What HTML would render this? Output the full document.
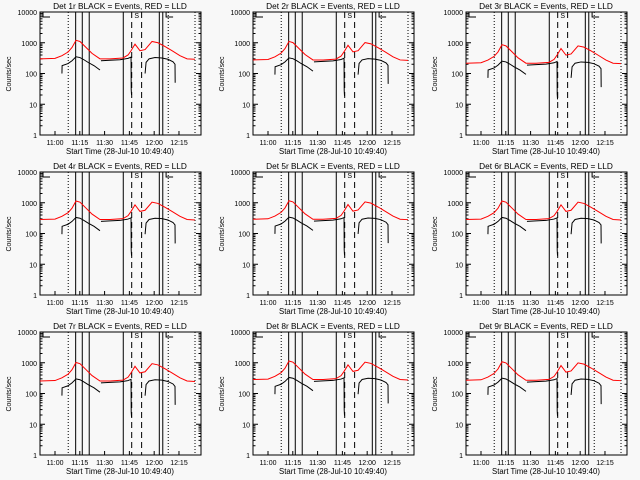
<!DOCTYPE html>
<html><head><meta charset="utf-8"><style>
html,body{margin:0;padding:0;background:#f8f8f8;}
svg{display:block;font-family:"Liberation Sans",sans-serif;}
</style></head><body>
<svg id="chart" width="640" height="480" viewBox="0 0 640 480"></svg>
<script>
// times in minutes relative to 11:00
const redTimes = [-9.1,0,4.2,7.9,10.3,12.7,15.1,18.8,22.4,27.2,33.3,41.1,44.2,46,48.4,51.4,54.5,58.7,62.3,66.6,70.8,75.6,79.9,84.7];
const redValues = [300,310,380,500,700,1200,1100,700,450,300,300,320,400,550,900,550,600,1100,1000,750,550,380,300,290];
const blackSeg1Times = [4.2,4.3,7.9,10.3,12.7,15.1,17.5,20,23.6,27.2];
const blackSeg1Values = [100,180,210,260,350,330,280,230,180,130];
const blackSeg2Times = [27.8,33.3,39.3,44.2,46,46.1,46.3];
const blackSeg2Values = [260,270,280,310,340,30,20];
const blackSeg3Times = [54.5,55.1,56.9,60.5,64.7,68.3,71.4,72.6,72.7];
const blackSeg3Values = [100,230,300,330,320,290,240,200,50];
const dottedTimes = [8.0,68.5,84.7];
const solidTimes = [12.5,16.5,20.7,41.3,63.1,65.2];
const dashedTimes = [46.4,52.4];
const panelNames = ["1r","2r","3r","4r","5r","6r","7r","8r","9r"];
const panelScales = [1.0,0.92,0.72,0.95,0.97,0.95,0.85,0.95,0.9];
const xTickMinutes = [0,15,30,45,60,75];
const xTickLabels = ["11:00","11:15","11:30","11:45","12:00","12:15"];
const yTickValues = [1,10,100,1000,10000];
const yTickLabels = ["1","10","100","1000","10000"];

const NS="http://www.w3.org/2000/svg";
const svg=document.getElementById('chart');
const L=40,R=201,T=12,B=135;
function xs(m){return 55+m*1.653;}
function ys(v){return B-Math.log10(v)*30.75;}
function mk(tag,attrs,parent){const e=document.createElementNS(NS,tag);for(const k in attrs)e.setAttribute(k,attrs[k]);parent.appendChild(e);return e;}

panelNames.forEach((nm,i)=>{
  const c=i%3,r=Math.floor(i/3);
  const g=mk('g',{transform:`translate(${c*213},${r*160})`},svg);
  
  
  const sc=panelScales[i];
  const fr=mk('rect',{x:L,y:T,width:R-L,height:B-T,fill:'none',stroke:'#000','stroke-width':1},g);
  
  
  const tt=mk('text',{x:120,y:9,'font-size':8.3,'text-anchor':'middle',fill:'#000'},g);
  tt.textContent=`Det ${nm} BLACK = Events, RED = LLD`;
  
  
  yTickValues.forEach((v,j)=>{
    const y=ys(v);
    mk('line',{x1:L,x2:L+5,y1:y,y2:y,stroke:'#000'},g);
    mk('line',{x1:R-5,x2:R,y1:y,y2:y,stroke:'#000'},g);
    const t=mk('text',{x:37,y:y+3,'font-size':7,'text-anchor':'end',fill:'#000'},g);
    t.textContent=yTickLabels[j];
    
    
    if(v<10000){for(let k=2;k<10;k++){const yy=ys(v*k);
      mk('line',{x1:L,x2:L+2.5,y1:yy,y2:yy,stroke:'#000'},g);
      mk('line',{x1:R-2.5,x2:R,y1:yy,y2:yy,stroke:'#000'},g);}}
  });
  const yl=mk('text',{x:0,y:0,'font-size':7,'text-anchor':'middle',fill:'#000',transform:'translate(11,74) rotate(-90)'},g);
  yl.textContent='Counts/sec';
  
  
  xTickMinutes.forEach((m,j)=>{
    const x=xs(m);
    mk('line',{x1:x,x2:x,y1:B,y2:B-4,stroke:'#000'},g);
    const t=mk('text',{x:x,y:145,'font-size':7,'text-anchor':'middle',fill:'#000'},g);
    t.textContent=xTickLabels[j];
    
    
  });
  const xl=mk('text',{x:120,y:154,'font-size':7.8,'text-anchor':'middle',fill:'#000'},g);
  xl.textContent='Start Time (28-Jul-10 10:49:40)';
  
  
  dottedTimes.forEach(m=>{const l=mk('line',{x1:xs(m),x2:xs(m),y1:T,y2:B,stroke:'#000','stroke-dasharray':'1,2'},g);
    });
  solidTimes.forEach(m=>{const l=mk('line',{x1:xs(m),x2:xs(m),y1:T,y2:B,stroke:'#000'},g);
    });
  dashedTimes.forEach(m=>{const l=mk('line',{x1:xs(m),x2:xs(m),y1:T,y2:B,stroke:'#000','stroke-dasharray':'6,4'},g);
    });
  mk('path',{d:`M${L+3} ${T}V${T+5}H${L+10}`,fill:'none',stroke:'#000'},g);
  mk('path',{d:`M${xs(66)+2} ${T}V${T+5}H${xs(66)+9}`,fill:'none',stroke:'#000'},g);
  const st=mk('text',{x:(xs(46.4)+xs(52.4))/2,y:T+6,'font-size':7,'text-anchor':'middle',fill:'#000'},g);
  st.textContent='S';
  
  
  const rp=mk('polyline',{points:redTimes.map((m,k)=>xs(m)+','+ys(redValues[k]*sc)).join(' '),fill:'none',stroke:'#ff0000','stroke-width':1},g);
  
  
  [[blackSeg1Times,blackSeg1Values],[blackSeg2Times,blackSeg2Values],[blackSeg3Times,blackSeg3Values]].forEach(([ts,vs])=>{
    const bp=mk('polyline',{points:ts.map((m,k)=>xs(m)+','+ys(vs[k]*sc)).join(' '),fill:'none',stroke:'#000','stroke-width':1},g);
    
    
  });
});
</script>
</body></html>
